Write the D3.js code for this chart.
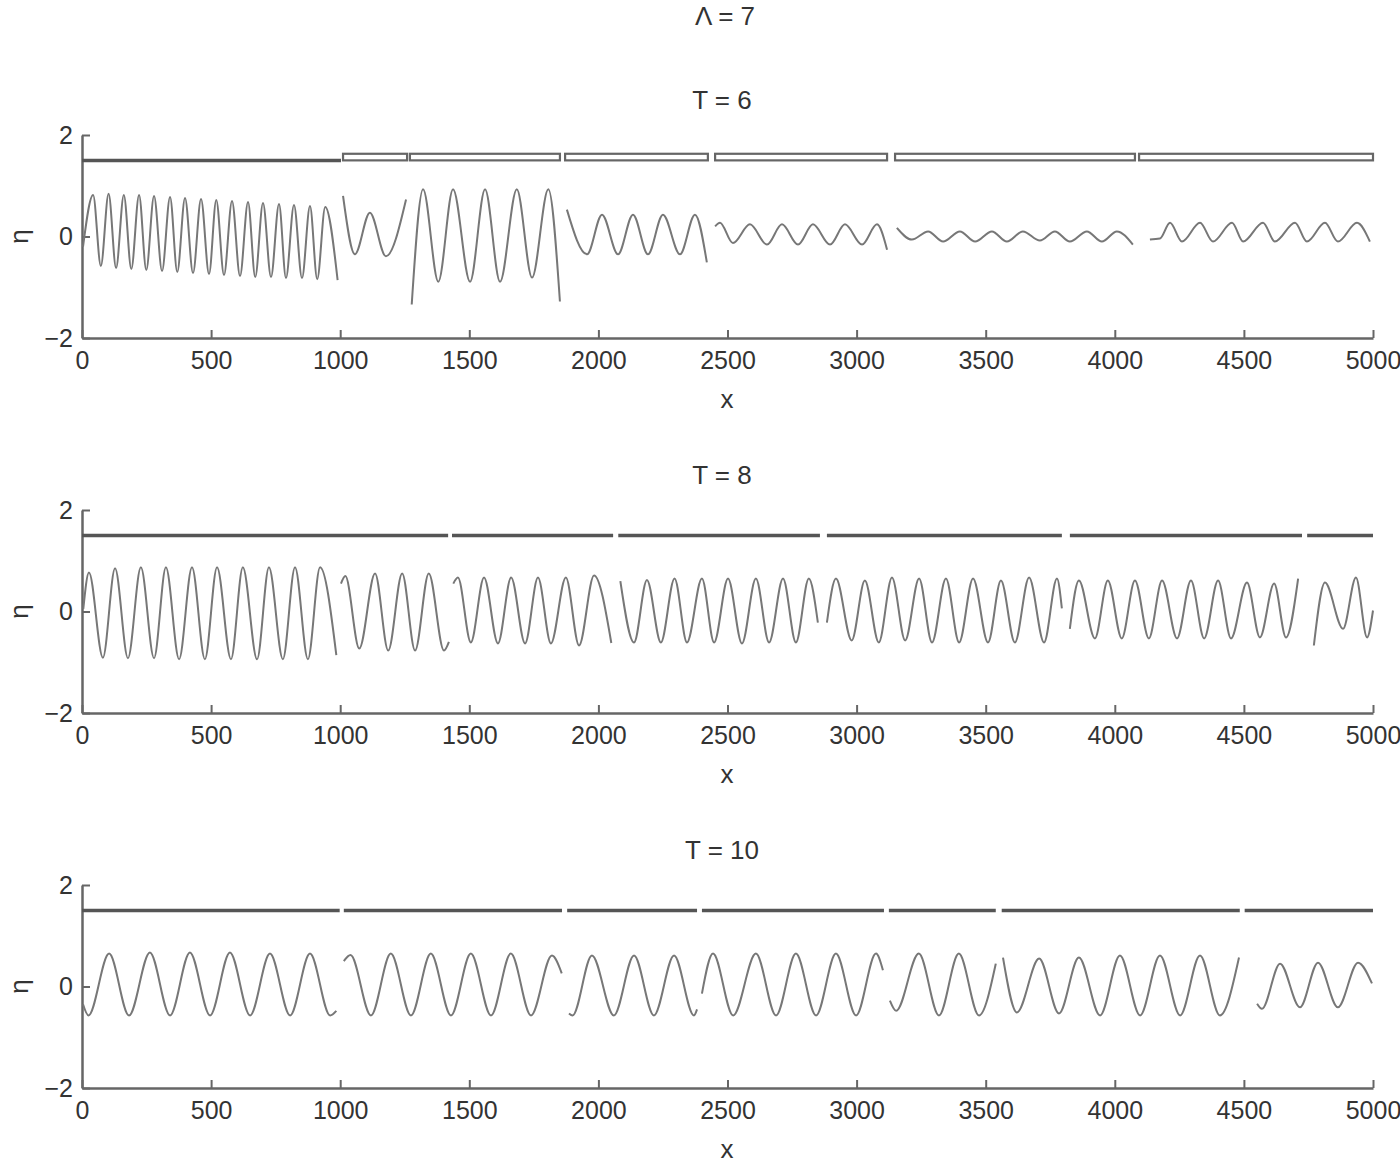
<!DOCTYPE html>
<html>
<head>
<meta charset="utf-8">
<script src="https://cdn.jsdelivr.net/npm/d3@7"></script>
<style>
  html, body { margin: 0; padding: 0; background: #fff; }
  svg { display: block; }
  text { font-family: "Liberation Sans", Arial, sans-serif; fill: #333; }
</style>
</head>
<body>
<svg id="chart" width="1400" height="1165"></svg>
<script>
// ---------- data ----------
const mainTitle = "Λ = 7";
const panelTitles = ["T = 6", "T = 8", "T = 10"];
const xTicks = [0, 500, 1000, 1500, 2000, 2500, 3000, 3500, 4000, 4500, 5000];
const yTicks = [-2, 0, 2];
const xLabel = "x";
const yLabel = "η";

// segment bars (x ranges) shown near the top of each panel
const barsT6 = [[0, 1003], [1011, 1259], [1270, 1851], [1871, 2424], [2452, 3118], [3149, 4078], [4094, 5000]];
const barKindsT6 = ["solid", "box", "box", "box", "box", "box", "box"];
const barsT8 = [[0, 1418], [1433, 2057], [2077, 2858], [2885, 3795], [3826, 4725], [4745, 5000]];
const barKindsT8 = ["solid", "solid", "solid", "solid", "solid", "solid"];
const barsT10 = [[0, 998], [1014, 1859], [1879, 2382], [2401, 3106], [3125, 3539], [3562, 4484], [4503, 5000]];
const barKindsT10 = ["solid", "solid", "solid", "solid", "solid", "solid", "solid"];

// surface elevation η: extrema, one array per segment
const wavesT6 = [
  [[4,-0.2],[43,0.82],[73,-0.58],[103,0.84],[132,-0.62],[162,0.82],[191,-0.64],[221,0.82],[249,-0.66],[279,0.8],[310,-0.68],[341,0.78],[369,-0.7],[399,0.76],[430,-0.72],[461,0.74],[492,-0.74],[520,0.72],[550,-0.76],[581,0.7],[612,-0.78],[643,0.68],[671,-0.8],[701,0.66],[732,-0.8],[763,0.64],[790,-0.82],[821,0.62],[852,-0.82],[883,0.6],[911,-0.84],[942,0.58],[990,-0.86]],
  [[1011,0.8],[1057,-0.35],[1115,0.47],[1177,-0.39],[1255,0.73]],
  [[1277,-1.34],[1321,0.93],[1380,-0.89],[1437,0.93],[1503,-0.89],[1561,0.93],[1619,-0.89],[1684,0.93],[1743,-0.81],[1806,0.93],[1851,-1.28]],
  [[1878,0.53],[1956,-0.35],[2014,0.43],[2076,-0.35],[2134,0.43],[2192,-0.35],[2250,0.43],[2316,-0.35],[2374,0.43],[2420,-0.51]],
  [[2452,0.2],[2471,0.27],[2521,-0.13],[2587,0.24],[2653,-0.16],[2711,0.24],[2773,-0.16],[2831,0.24],[2897,-0.16],[2955,0.24],[3021,-0.16],[3079,0.24],[3118,-0.26]],
  [[3156,0.17],[3214,-0.06],[3277,0.1],[3335,-0.1],[3400,0.1],[3459,-0.1],[3524,0.1],[3582,-0.1],[3644,0.1],[3710,-0.08],[3768,0.1],[3826,-0.1],[3892,0.1],[3950,-0.1],[4008,0.1],[4070,-0.16]],
  [[4136,-0.06],[4175,-0.04],[4214,0.27],[4260,-0.1],[4330,0.27],[4380,-0.1],[4454,0.27],[4497,-0.1],[4574,0.27],[4620,-0.1],[4698,0.27],[4744,-0.1],[4814,0.27],[4864,-0.1],[4938,0.27],[4988,-0.1]]
];
const wavesT8 = [
  [[5,0.05],[27,0.77],[81,-0.91],[128,0.85],[178,-0.92],[228,0.87],[279,-0.92],[325,0.87],[376,-0.94],[426,0.87],[476,-0.94],[523,0.87],[577,-0.94],[623,0.87],[678,-0.94],[724,0.87],[778,-0.94],[825,0.87],[875,-0.94],[922,0.87],[985,-0.86]],
  [[1003,0.55],[1020,0.7],[1074,-0.73],[1135,0.75],[1186,-0.77],[1240,0.75],[1290,-0.77],[1343,0.75],[1402,-0.77],[1421,-0.6]],
  [[1438,0.55],[1456,0.67],[1506,-0.61],[1557,0.67],[1611,-0.63],[1662,0.67],[1716,-0.63],[1766,0.67],[1816,-0.63],[1874,0.67],[1925,-0.67],[1983,0.71],[2050,-0.62]],
  [[2085,0.6],[2138,-0.61],[2188,0.62],[2242,-0.61],[2295,0.65],[2343,-0.61],[2401,0.65],[2448,-0.61],[2502,0.65],[2556,-0.63],[2610,0.65],[2661,-0.61],[2715,0.65],[2765,-0.61],[2815,0.65],[2850,-0.22]],
  [[2885,-0.22],[2920,0.65],[2981,-0.57],[3032,0.61],[3086,-0.61],[3137,0.67],[3188,-0.57],[3242,0.65],[3292,-0.61],[3346,0.65],[3397,-0.61],[3451,0.65],[3509,-0.61],[3559,0.61],[3613,-0.61],[3668,0.67],[3726,-0.61],[3776,0.65],[3795,0.06]],
  [[3826,-0.34],[3861,0.61],[3923,-0.53],[3973,0.61],[4027,-0.53],[4078,0.61],[4132,-0.53],[4183,0.61],[4241,-0.53],[4295,0.61],[4346,-0.53],[4400,0.61],[4450,-0.53],[4512,0.57],[4562,-0.51],[4617,0.55],[4663,-0.51],[4710,0.65]],
  [[4771,-0.67],[4814,0.57],[4884,-0.34],[4934,0.67],[4977,-0.51],[5000,0.02]]
];
const wavesT10 = [
  [[4,-0.35],[25,-0.57],[105,0.65],[182,-0.57],[263,0.67],[341,-0.57],[418,0.67],[496,-0.57],[573,0.67],[651,-0.57],[728,0.65],[806,-0.57],[883,0.65],[961,-0.57],[985,-0.48]],
  [[1014,0.5],[1040,0.62],[1119,-0.57],[1196,0.65],[1274,-0.57],[1351,0.65],[1429,-0.57],[1506,0.65],[1584,-0.57],[1661,0.65],[1739,-0.57],[1820,0.61],[1858,0.26]],
  [[1886,-0.53],[1900,-0.57],[1975,0.61],[2060,-0.57],[2138,0.61],[2215,-0.57],[2293,0.61],[2370,-0.57],[2382,-0.45]],
  [[2401,-0.14],[2444,0.65],[2522,-0.57],[2610,0.65],[2688,-0.57],[2765,0.65],[2843,-0.57],[2920,0.65],[2998,-0.57],[3075,0.65],[3102,0.32]],
  [[3129,-0.28],[3153,-0.48],[3241,0.65],[3319,-0.57],[3396,0.65],[3474,-0.57],[3539,0.45]],
  [[3567,0.57],[3621,-0.51],[3707,0.55],[3784,-0.53],[3861,0.57],[3943,-0.57],[4020,0.61],[4098,-0.57],[4175,0.61],[4253,-0.57],[4330,0.61],[4407,-0.57],[4481,0.57]],
  [[4551,-0.34],[4570,-0.44],[4640,0.45],[4717,-0.41],[4787,0.47],[4864,-0.41],[4942,0.47],[4996,0.06]]
];

// ---------- drawing ----------
const svg = d3.select("#chart");
svg.append("rect").attr("width", 1400).attr("height", 1165).attr("fill", "#fff");

const left = 82, right = 1373;
const panelTops = [135, 510, 885];
const panelHeight = 203;
const panels = [
  { title: panelTitles[0], bars: barsT6, kinds: barKindsT6, waves: wavesT6 },
  { title: panelTitles[1], bars: barsT8, kinds: barKindsT8, waves: wavesT8 },
  { title: panelTitles[2], bars: barsT10, kinds: barKindsT10, waves: wavesT10 }
];

svg.append("text").attr("x", 725).attr("y", 25).attr("text-anchor", "middle")
  .attr("font-size", 26).text(mainTitle);

const x = d3.scaleLinear().domain([0, 5000]).range([left, right]);

panels.forEach((p, i) => {
  const top = panelTops[i], bottom = top + panelHeight;
  const y = d3.scaleLinear().domain([-2, 2]).range([bottom, top]);
  const g = svg.append("g");

  // title
  g.append("text").attr("x", 722).attr("y", top - 26).attr("text-anchor", "middle")
    .attr("font-size", 26).text(p.title);

  // axes
  const xa = g.append("g").attr("transform", `translate(0,${bottom})`)
    .call(d3.axisBottom(x).tickValues(xTicks).tickSize(-8).tickSizeOuter(0).tickPadding(13).tickFormat(d3.format("d")));
  const ya = g.append("g").attr("transform", `translate(${left},0)`)
    .call(d3.axisLeft(y).tickValues(yTicks).tickSize(-8).tickSizeOuter(0).tickPadding(9).tickFormat(d3.format("d")));
  [xa, ya].forEach(a => {
    a.select(".domain").attr("stroke", "#666").attr("stroke-width", 2.5);
    a.selectAll(".tick line").attr("stroke", "#666").attr("stroke-width", 2);
    a.selectAll(".tick text").attr("font-size", 25).attr("fill", "#333")
      .attr("font-family", "'Liberation Sans', Arial, sans-serif");
  });

  // axis labels
  g.append("text").attr("x", 727).attr("y", bottom + 70).attr("text-anchor", "middle")
    .attr("font-size", 26).text(xLabel);
  g.append("text").attr("transform", `translate(28,${y(0)}) rotate(-90)`)
    .attr("text-anchor", "middle").attr("font-size", 26).text(yLabel);

  // segment bars
  const barY = 1.5, boxTop = 1.63;
  p.bars.forEach((b, k) => {
    if (p.kinds[k] === "solid") {
      g.append("line").attr("x1", x(b[0])).attr("x2", x(b[1]))
        .attr("y1", y(barY)).attr("y2", y(barY))
        .attr("stroke", "#555").attr("stroke-width", 3.5);
    } else {
      g.append("rect").attr("x", x(b[0])).attr("width", x(b[1]) - x(b[0]))
        .attr("y", y(boxTop)).attr("height", y(barY) - y(boxTop))
        .attr("fill", "none").attr("stroke", "#666").attr("stroke-width", 2.2);
    }
  });

  // waves
  const line = d3.line().x(d => x(d[0])).y(d => y(d[1])).curve(d3.curveMonotoneX);
  g.selectAll("path.wave").data(p.waves).enter().append("path")
    .attr("class", "wave").attr("d", line)
    .attr("fill", "none").attr("stroke", "#777").attr("stroke-width", 2);
});
</script>
</body>
</html>
